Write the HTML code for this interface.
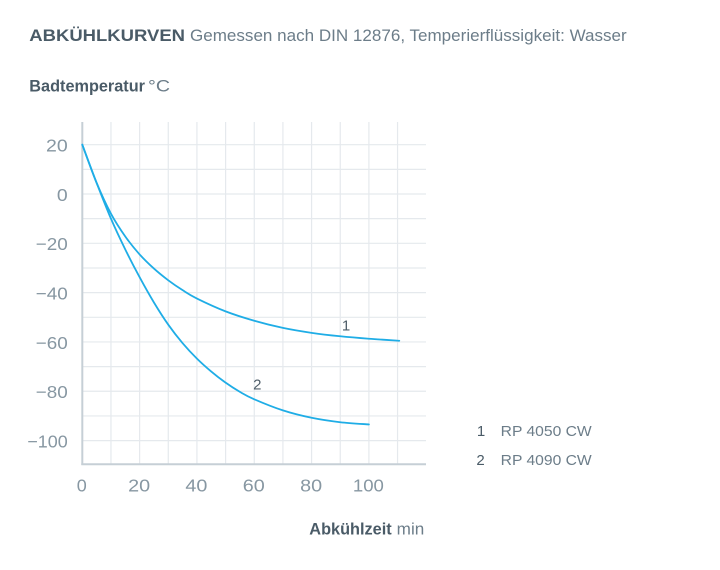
<!DOCTYPE html>
<html>
<head>
<meta charset="utf-8">
<style>
  html,body{margin:0;padding:0;background:#ffffff;}
  svg{display:block;}
  text{font-family:"Liberation Sans", "DejaVu Sans", sans-serif;}
</style>
</head>
<body>
<svg id="chart" width="720" height="570" viewBox="0 0 720 570" xmlns="http://www.w3.org/2000/svg">
  <rect x="0" y="0" width="720" height="570" fill="#ffffff"/>

  <!-- Titles -->
  <text x="29.3" y="41" font-size="17" font-weight="bold" fill="#4a5b67" textLength="155.7" lengthAdjust="spacingAndGlyphs">ABKÜHLKURVEN</text>
  <text x="190" y="41" font-size="17" fill="#6c7d89" textLength="436.7" lengthAdjust="spacingAndGlyphs">Gemessen nach DIN 12876, Temperierflüssigkeit: Wasser</text>

  <text x="29.3" y="91.7" font-size="17" font-weight="bold" fill="#4a5b67" textLength="115.7" lengthAdjust="spacingAndGlyphs">Badtemperatur</text>
  <text x="148" y="91.7" font-size="17" fill="#6c7d89" textLength="22" lengthAdjust="spacingAndGlyphs">°C</text>

  <g id="grid" stroke="#e5e9ed" stroke-width="1.2" fill="none"></g>

  <!-- Axes -->
  <line x1="82.3" y1="122" x2="82.3" y2="465" stroke="#c6cfd6" stroke-width="2"/>
  <line x1="81.3" y1="464.3" x2="426" y2="464.3" stroke="#c6cfd6" stroke-width="2"/>

  <g id="ylabels" font-size="17.5" fill="#8797a2" text-anchor="end"></g>
  <g id="xlabels" font-size="17.5" fill="#8797a2" text-anchor="middle"></g>

  <path id="c1" fill="none" stroke="#1fade6" stroke-width="1.8" stroke-linecap="round" stroke-linejoin="round"/>
  <path id="c2" fill="none" stroke="#1fade6" stroke-width="1.8" stroke-linecap="round" stroke-linejoin="round"/>

  <!-- Curve labels -->
  <text x="346" y="330.5" font-size="15" fill="#4f5e69" text-anchor="middle">1</text>
  <text x="257.3" y="389.5" font-size="15" fill="#4f5e69" text-anchor="middle">2</text>

  <!-- Legend -->
  <text x="481" y="436" font-size="15" fill="#4a5b67" text-anchor="middle">1</text>
  <text x="500.7" y="436" font-size="15" fill="#6c7d89" textLength="91" lengthAdjust="spacingAndGlyphs">RP 4050 CW</text>
  <text x="480.5" y="465" font-size="15" fill="#4a5b67" text-anchor="middle">2</text>
  <text x="500.7" y="465" font-size="15" fill="#6c7d89" textLength="91" lengthAdjust="spacingAndGlyphs">RP 4090 CW</text>

  <!-- X axis title -->
  <text x="309.3" y="534.3" font-size="17" font-weight="bold" fill="#4a5b67" textLength="82.4" lengthAdjust="spacingAndGlyphs">Abkühlzeit</text>
  <text x="396.7" y="534.3" font-size="17" fill="#6c7d89" textLength="27.6" lengthAdjust="spacingAndGlyphs">min</text>
</svg>
<script>
(function(){
  var NS="http://www.w3.org/2000/svg";
  function px(t){return 82.3+2.866*t;}
  function py(T){return 194-2.466*T;}
  var grid=document.getElementById("grid");
  function line(x1,y1,x2,y2){var l=document.createElementNS(NS,"line");l.setAttribute("x1",x1);l.setAttribute("y1",y1);l.setAttribute("x2",x2);l.setAttribute("y2",y2);grid.appendChild(l);}
  for(var k=1;k<=11;k++){var x=px(10*k);line(x,122,x,464);}
  for(var T=20;T>=-100;T-=10){var y=py(T);line(82.3,y,426,y);}
  var yl=document.getElementById("ylabels");
  var ylw={"20":21.7,"0":10.8,"-20":32,"-40":32,"-60":32,"-80":32,"-100":40.4};
  for(var T=20;T>=-100;T-=20){
    var t=document.createElementNS(NS,"text");
    t.setAttribute("x",67.7);t.setAttribute("y",py(T)+6.8);
    t.setAttribute("textLength",ylw[String(T)]);t.setAttribute("lengthAdjust","spacingAndGlyphs");
    t.textContent=(T<0?"\u2212":"")+Math.abs(T);
    yl.appendChild(t);
  }
  var xl=document.getElementById("xlabels");
  var xlw={"0":10,"20":22,"40":22,"60":22,"80":22,"100":31};
  for(var v=0;v<=100;v+=20){
    var t=document.createElementNS(NS,"text");
    t.setAttribute("x",px(v)-0.5);t.setAttribute("y",491.7);
    t.setAttribute("textLength",xlw[String(v)]);t.setAttribute("lengthAdjust","spacingAndGlyphs");
    t.textContent=String(v);
    xl.appendChild(t);
  }
  function cr(data){
    var p=data.map(function(d){return [px(d[0]),py(d[1])];});
    var d="M"+p[0][0].toFixed(2)+","+p[0][1].toFixed(2);
    for(var i=0;i<p.length-1;i++){
      var p0=p[i-1]||p[i],p1=p[i],p2=p[i+1],p3=p[i+2]||p[i+1];
      var c1x=p1[0]+(p2[0]-p0[0])/6,c1y=p1[1]+(p2[1]-p0[1])/6;
      var c2x=p2[0]-(p3[0]-p1[0])/6,c2y=p2[1]-(p3[1]-p1[1])/6;
      d+=" C"+c1x.toFixed(2)+","+c1y.toFixed(2)+" "+c2x.toFixed(2)+","+c2y.toFixed(2)+" "+p2[0].toFixed(2)+","+p2[1].toFixed(2);
    }
    return d;
  }
  var c1=[[0,20],[5,4.5],[10,-8],[15,-17.25],[20,-24.5],[25,-30.25],[30,-35],[35,-39],[40,-42.4],[50,-47.6],[60,-51.4],[70,-54.3],[80,-56.3],[90,-57.7],[100,-58.7],[110.6,-59.5]];
  var c2=[[0,20],[5,4.5],[10,-10],[15,-22.5],[20,-33.75],[25,-44],[30,-53],[35,-60.5],[40,-66.75],[45,-72],[50,-76.5],[55,-80.25],[60,-83.25],[70,-87.75],[80,-90.75],[90,-92.55],[100,-93.45]];
  document.getElementById("c1").setAttribute("d",cr(c1));
  document.getElementById("c2").setAttribute("d",cr(c2));
})();
</script>
</body>
</html>
